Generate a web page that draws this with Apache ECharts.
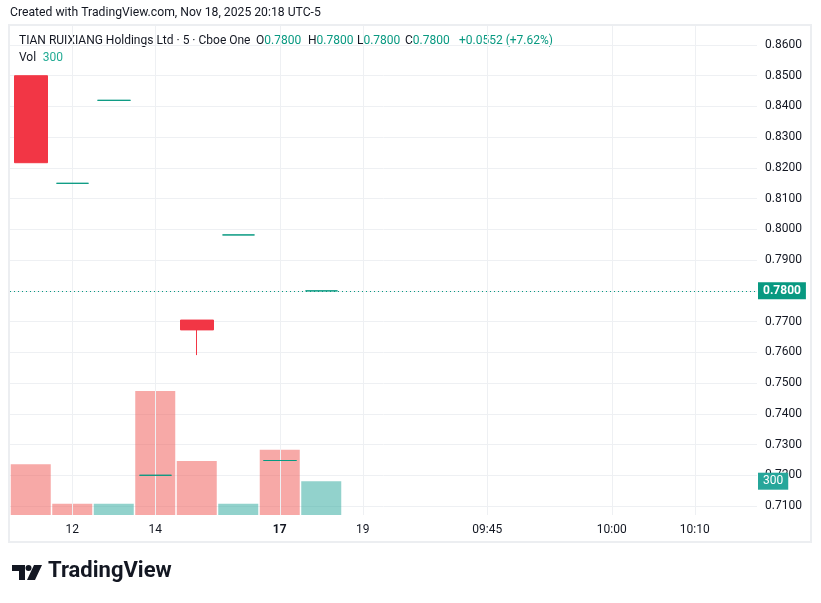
<!DOCTYPE html>
<html><head><meta charset="utf-8">
<script src="https://cdn.jsdelivr.net/npm/echarts@6/dist/echarts.min.js"></script>
<style>html,body{margin:0;padding:0;background:#fff}#c{width:821px;height:603px}</style>
</head><body><div id="c"></div>
<script>
// ---- data ----
const timeSlots = ['11', '12', '13', '14', '14b', '14c', '17', '17b', '19', '09:35', '09:40', '09:45', '09:50', '09:55', '10:00', '10:05', '10:10', '10:15'];
const tickLabels = ['12', '14', '17', '19', '09:45', '10:00', '10:10'];
const boldTicks = ['17'];
const opens  = [0.8500, 0.8150, 0.8420, 0.7200, 0.7705, 0.7982, 0.7248, 0.7800];
const closes = [0.8217, 0.8150, 0.8420, 0.7200, 0.7673, 0.7982, 0.7248, 0.7800];
const lows   = [0.8217, 0.8150, 0.8420, 0.7200, 0.7591, 0.7982, 0.7248, 0.7800];
const highs  = [0.8500, 0.8150, 0.8420, 0.7200, 0.7705, 0.7982, 0.7248, 0.7800];
const volumes = [450, 100, 100, 1100, 480, 100, 580, 300];
const volumeUp = [false, false, true, false, false, true, false, true];
const priceMin = 0.71, priceMax = 0.86, priceStep = 0.01;
const lastPrice = 0.78;
const lastVolume = 300;
const headerText = 'Created with TradingView.com, Nov 18, 2025 20:18 UTC-5';
const titleText = 'TIAN RUIXIANG Holdings Ltd · 5 · Cboe One';
const ohlcLabels = ['O', 'H', 'L', 'C'];
const ohlcValues = ['0.7800', '0.7800', '0.7800', '0.7800'];
const changeText = '+0.0552 (+7.62%)';

// ---- styles ----
const UP = '#089981', DOWN = '#f23645';
const VOL_UP = 'rgba(38,166,154,0.5)', VOL_DOWN = 'rgba(239,83,80,0.5)';
const GRID = '#eef0f3', TXT = '#131722';
const FONT = 'Roboto, "Liberation Sans", sans-serif';

const candleData = opens.map((o, i) => {
  const c = closes[i];
  const col = c >= o ? UP : DOWN;
  return { value: [o, c, lows[i], highs[i]], itemStyle: { color: col, color0: col, borderColor: col, borderColor0: col } };
});
const volData = volumes.map((v, i) => ({ value: v, itemStyle: { color: volumeUp[i] ? VOL_UP : VOL_DOWN } }));

const chart = echarts.init(document.getElementById('c'), null, { renderer: 'canvas' });
const L = 10, R = 64;
const hiddenX = { type: 'category', data: timeSlots, boundaryGap: true, axisLine: { show: false }, axisTick: { show: false }, axisLabel: { show: false }, splitLine: { show: false } };

const ohlcGraphics = [];
const ohlcX = [256, 308, 357, 405];
ohlcLabels.forEach((k, i) => {
  ohlcGraphics.push({ type: 'text', left: ohlcX[i], top: 35, style: { text: '{k|' + k + '}{v|' + ohlcValues[i] + '}', rich: { k: { fill: TXT, fontSize: 12, fontFamily: FONT }, v: { fill: UP, fontSize: 12, fontFamily: FONT } } } });
});

chart.setOption({
  animation: false,
  backgroundColor: '#fff',
  grid: [
    { left: L, right: R, top: 45, height: 461 },
    { left: L, right: R, top: 346, height: 169 },
    { left: L, right: R, top: 25, height: 490 }
  ],
  xAxis: [
    Object.assign({ gridIndex: 0 }, hiddenX),
    Object.assign({ gridIndex: 1 }, hiddenX),
    {
      gridIndex: 2, type: 'category', data: timeSlots, boundaryGap: true,
      axisLine: { show: false }, axisTick: { show: false }, splitLine: { show: false },
      axisLabel: {
        interval: 0, margin: 9, color: TXT, fontSize: 12, fontFamily: FONT,
        formatter: v => tickLabels.includes(v) ? (boldTicks.includes(v) ? '{b|' + v + '}' : v) : '',
        rich: { b: { fontWeight: 'bold', fontSize: 12, color: TXT, fontFamily: FONT } }
      }
    }
  ],
  yAxis: [
    {
      gridIndex: 0, type: 'value', position: 'right', min: priceMin, max: priceMax, interval: priceStep,
      axisLine: { show: false }, axisTick: { show: false },
      splitLine: { lineStyle: { color: GRID, width: 1 } },
      axisLabel: { margin: 8, color: TXT, fontSize: 12, fontFamily: FONT, formatter: v => Math.abs(v - lastPrice) < 1e-6 ? '' : v.toFixed(4) }
    },
    { gridIndex: 1, type: 'value', min: 0, max: 1500, show: false },
    { gridIndex: 2, type: 'value', min: 0, max: 1, show: false }
  ],
  series: [
    {
      type: 'line', xAxisIndex: 2, yAxisIndex: 2, data: [], silent: true,
      markLine: {
        silent: true, symbol: 'none', animation: false,
        label: { show: false },
        lineStyle: { color: GRID, width: 1, type: 'solid' },
        data: tickLabels.map(t => ({ xAxis: t }))
      },
      z: 1
    },
    {
      type: 'bar', xAxisIndex: 1, yAxisIndex: 1, data: volData, barWidth: 40, z: 2,
      markLine: {
        silent: true, symbol: 'none', animation: false,
        lineStyle: { color: 'rgba(0,0,0,0)', width: 0 },
        label: { show: true, position: 'end', distance: 1, formatter: String(lastVolume), color: '#fff', backgroundColor: '#26a69a', padding: [3, 5, 2, 5], fontSize: 12, fontFamily: FONT },
        data: [{ yAxis: lastVolume }]
      }
    },
    {
      type: 'candlestick', xAxisIndex: 0, yAxisIndex: 0, data: candleData, barWidth: 33, z: 5,
      itemStyle: { borderWidth: 1 },
      markLine: {
        silent: true, symbol: 'none', animation: false,
        lineStyle: { color: UP, width: 1, type: [1, 3] },
        label: { show: true, position: 'end', distance: 1, formatter: lastPrice.toFixed(4), color: '#fff', backgroundColor: UP, padding: [3, 5, 2, 5], fontSize: 12, fontWeight: 'bold', fontFamily: FONT },
        data: [{ yAxis: lastPrice }]
      }
    }
  ],
  graphic: [
    { type: 'rect', shape: { x: 9, y: 25, width: 802, height: 517 }, style: { fill: 'none', stroke: '#eceef1', lineWidth: 2 }, z: 100 },
    { type: 'text', left: 10, top: 7, style: { text: headerText, fill: TXT, fontSize: 12.2, fontFamily: FONT } },
    { type: 'text', left: 19, top: 35, style: { text: titleText, fill: TXT, fontSize: 12, fontFamily: FONT } },
    ...ohlcGraphics,
    { type: 'text', left: 459, top: 35, style: { text: changeText, fill: UP, fontSize: 12, fontFamily: FONT } },
    { type: 'text', left: 19, top: 52, style: { text: '{k|Vol}  {v|300}', rich: { k: { fill: TXT, fontSize: 12, fontFamily: FONT }, v: { fill: '#22ab94', fontSize: 12, fontFamily: FONT } } } },
    // TradingView logo mark
    { type: 'polygon', shape: { points: [[12, 565], [25, 565], [25, 580], [19, 580], [19, 571], [12, 571]] }, style: { fill: TXT } },
    { type: 'circle', shape: { cx: 28.5, cy: 568, r: 3 }, style: { fill: TXT } },
    { type: 'polygon', shape: { points: [[34, 565], [42, 565], [35, 580], [27, 580]] }, style: { fill: TXT } },
    { type: 'text', left: 48, top: 560, style: { text: 'TradingView', fill: TXT, fontSize: 22, fontWeight: 'bold', fontFamily: FONT } }
  ]
});
</script>
</body></html>
